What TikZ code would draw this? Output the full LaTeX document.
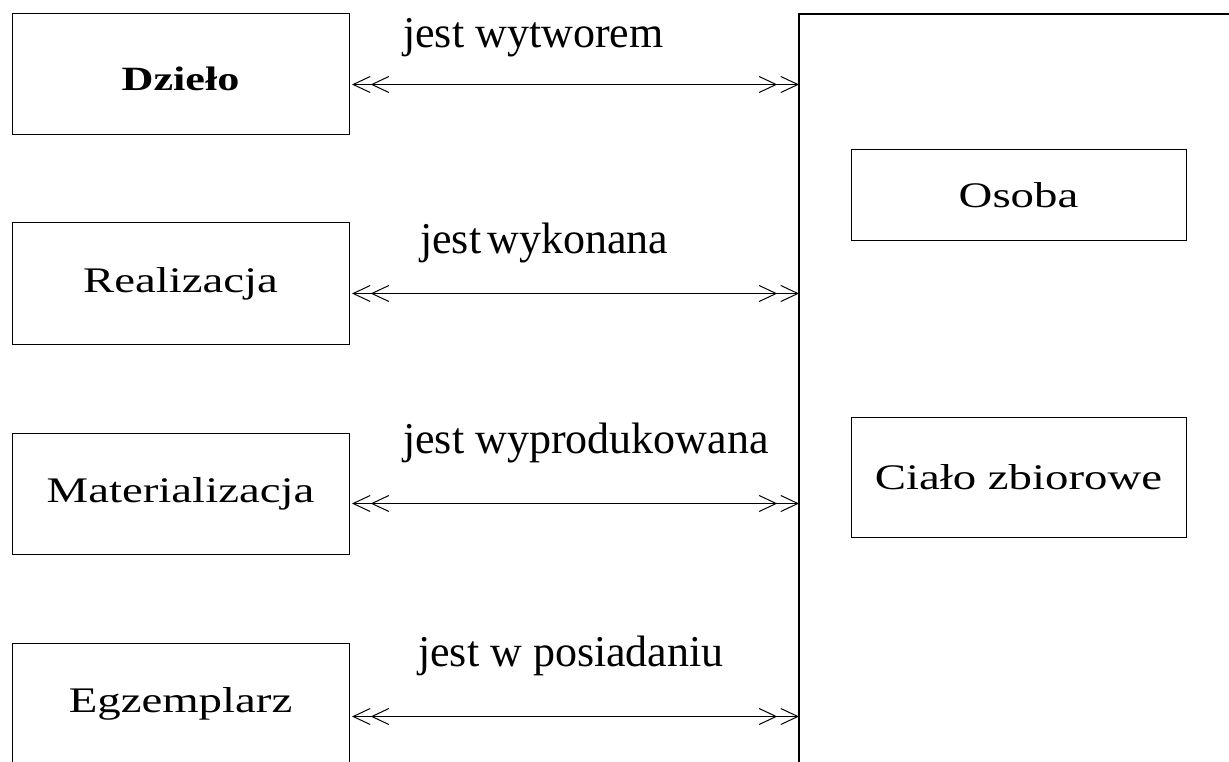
\documentclass[tikz,border=0pt]{standalone}
\usepackage{fontspec}
\setmainfont{Liberation Serif}
\newfontfamily\boxfont[FakeStretch=1.3]{Liberation Serif}
\usetikzlibrary{arrows.meta}
\begin{document}
\begin{tikzpicture}[x=1pt,y=-1pt,
  entity/.style={draw, line width=1pt, inner sep=0pt, outer sep=0pt, anchor=north west,
    minimum width=337pt, minimum height=121pt, font=\boxfont\fontsize{36}{40}\selectfont},
  rel/.style={line width=1.2pt,
    arrows={Straight Barb[length=17pt,width=16pt,line width=1pt,sep=3pt]Straight Barb[length=17pt,width=16pt,line width=1pt]-Straight Barb[length=17pt,width=16pt,line width=1pt,sep=3pt]Straight Barb[length=17pt,width=16pt,line width=1pt]}},
  lbl/.style={anchor=base west, inner sep=0pt, font=\fontsize{44}{48}\selectfont}]
\useasboundingbox (0,0) rectangle (1229,762);
\begin{scope}
\clip (0,0) rectangle (1229,762);
% container of agents
\node[draw, line width=1.5pt, anchor=north west, inner sep=0pt, outer sep=0pt,
  minimum width=480pt, minimum height=800pt] (grp) at (799,14) {};
% entities
\node[entity, font=\boxfont\bfseries\fontsize{34}{40}\selectfont] (dz) at (12,14) {\raisebox{-5pt}[23pt][0pt]{Dzieło}};
\node[entity] (re) at (12,223) {Realizacja};
\node[entity] (ma) at (12,433) {Materializacja};
\node[entity] (eg) at (12,643) {Egzemplarz};
\node[entity, minimum width=335pt, minimum height=91pt] (os) at (851,150) {Osoba};
\node[entity, minimum width=335pt, minimum height=120pt] (cz) at (851,417) {Ciało zbiorowe};
% connector start points
\coordinate (p1) at ([yshift=-10pt]dz.east);
\coordinate (p2) at ([yshift=-10pt]re.east);
\coordinate (p3) at ([yshift=-10pt]ma.east);
\coordinate (p4) at ([yshift=-13pt]eg.east);
\draw[rel] (p1) -- (p1 -| grp.west);
\draw[rel] (p2) -- (p2 -| grp.west);
\draw[rel] (p3) -- (p3 -| grp.west);
\draw[rel] (p4) -- (p4 -| grp.west);
% labels
\node[lbl] (l1) at (403,48) {jest wytworem};
\node[lbl] (l2) at (420,254) {jest\kern6pt wykonana};
\node[lbl] (l3) at (403,453) {jest wyprodukowana};
\node[lbl] (l4) at (418,666) {jest w posiadaniu};
\end{scope}
\end{tikzpicture}
\end{document}
